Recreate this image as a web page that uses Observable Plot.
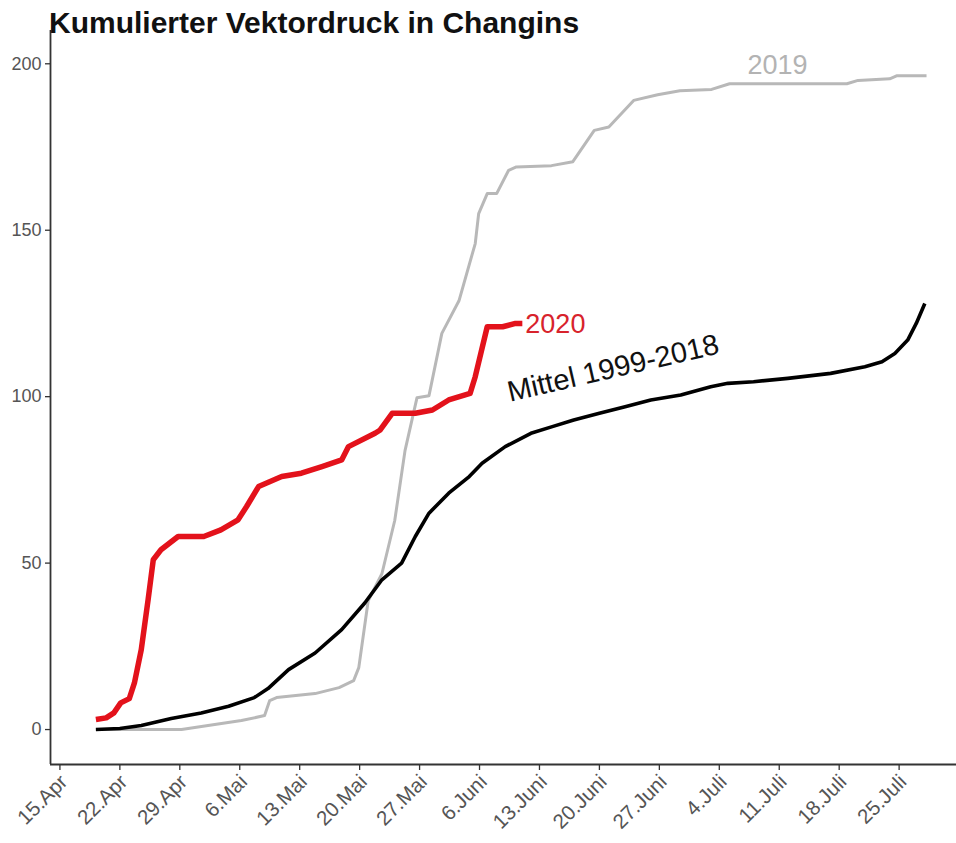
<!DOCTYPE html>
<html>
<head>
<meta charset="utf-8">
<script src="https://cdn.jsdelivr.net/npm/d3@7"></script>
<script src="https://cdn.jsdelivr.net/npm/@observablehq/plot@0.6"></script>
<style>
  html, body { margin: 0; padding: 0; background: #fff; }
  #wrap { position: relative; width: 956px; height: 843px; }
  #title { position: absolute; left: 49px; top: 8px; font: bold 30px "Liberation Sans", Arial, sans-serif; color: #111; line-height: 1; white-space: nowrap; }
  svg { display: block; }
</style>
</head>
<body>
<div id="wrap">
  <div id="title">Kumulierter Vektordruck in Changins</div>
  <div id="chart"></div>
</div>
<script>
// x = days since 15 April
const xTickDays = [0, 7, 14, 21, 28, 35, 42, 49, 56, 63, 70, 77, 84, 91, 98];
const xTickLabels = ["15.Apr", "22.Apr", "29.Apr", "6.Mai", "13.Mai", "20.Mai", "27.Mai", "6.Juni", "13.Juni", "20.Juni", "27.Juni", "4.Juli", "11.Juli", "18.Juli", "25.Juli"];
const yTicks = [0, 50, 100, 150, 200];

// 2020
const days2020 = [4.2, 5.4, 6.3, 7.1, 8.1, 8.7, 9.5, 10.3, 10.9, 11.8, 13.8, 16.8, 18.8, 20.8, 21.8, 23.2, 25.9, 28.2, 30.6, 32.9, 33.7, 36.8, 37.4, 38.8, 41.5, 43.5, 45.4, 47.9, 48.5, 49.9, 51.7, 53.2, 54.0];
const vals2020 = [3, 3.5, 5, 8, 9.3, 14, 24, 39, 51, 54, 58, 58, 60, 63, 67, 73, 76, 77, 79, 81, 85, 89, 90, 95, 95, 96, 99, 101, 106, 121, 121, 122, 122];

// 2019
const days2019 = [4.2, 14.2, 17.3, 21.2, 23.9, 24.5, 25.3, 29.8, 32.6, 34.3, 34.9, 36.0, 37.6, 39.1, 40.3, 41.7, 43.1, 44.6, 46.6, 48.5, 48.9, 49.9, 51.0, 52.4, 53.3, 57.4, 59.9, 62.4, 64.1, 67.0, 69.8, 72.4, 76.1, 78.2, 91.9, 93.2, 96.9, 97.7, 101.2];
const vals2019 = [0, 0, 1.2, 2.7, 4.2, 8.7, 9.6, 10.8, 12.6, 14.7, 18.6, 38.7, 46.8, 62.8, 83.8, 99.7, 100.3, 119, 128.8, 146, 155, 161, 161, 168, 169, 169.4, 170.6, 180, 181, 189, 190.7, 191.9, 192.3, 194, 194, 195, 195.5, 196.4, 196.4];

// Mittel 1999-2018
const daysMean = [4.2, 7, 9.5, 13, 16.5, 19.7, 22.7, 24.3, 26.7, 29.8, 32.9, 35.6, 37.6, 39.9, 41.5, 43.1, 45.4, 47.8, 49.3, 52, 55, 57.5, 60, 63, 66, 69, 72.5, 76, 78, 81, 85, 90, 94, 96, 97.5, 99, 100, 101];
const valsMean = [0, 0.3, 1.2, 3.3, 5, 7, 9.6, 12.3, 18, 23, 30, 38, 45, 50, 58, 65, 71, 76, 80, 85, 89, 91, 93, 95, 97, 99, 100.5, 103, 104, 104.5, 105.5, 107, 109, 110.5, 113, 117, 122, 128];

const labelTexts = ["2020", "2019", "Mittel 1999-2018"];

const toRows = (ds, vs) => ds.map((d, i) => ({x: d, y: vs[i]}));
const d2020 = toRows(days2020, vals2020);
const d2019 = toRows(days2019, vals2019);
const dMean = toRows(daysMean, valsMean);

const xMin = -1.1, yMin = -10.5;
const font = "'Liberation Sans', Arial, sans-serif";

const chart = Plot.plot({
  width: 956,
  height: 843,
  marginTop: 30,
  marginLeft: 50,
  marginRight: 0,
  marginBottom: 79,
  style: {fontFamily: font, background: "#fff"},
  x: {domain: [xMin, 104.7], axis: null},
  y: {domain: [yMin, 210], axis: null},
  marks: [
    Plot.axisY({ticks: yTicks, tickSize: 5, tickPadding: 4, fontSize: 18, fill: "#555", stroke: "#333", strokeWidth: 1.3, label: null, tickFormat: d => String(d)}),
    Plot.axisX({ticks: xTickDays, tickSize: 6, stroke: "#333", strokeWidth: 1.3, label: null, tickFormat: () => ""}),
    Plot.axisX({ticks: xTickDays, tickSize: 0, tickPadding: 14, dx: 4, tickRotate: -45, fontSize: 20.5, fill: "#555", label: null, tickFormat: d => xTickLabels[xTickDays.indexOf(d)]}),
    Plot.ruleX([xMin], {stroke: "#333", strokeWidth: 1.8}),
    Plot.ruleY([yMin], {stroke: "#333", strokeWidth: 1.8}),
    Plot.line(d2019, {x: "x", y: "y", stroke: "#b8b8b8", strokeWidth: 3, strokeLinecap: "butt"}),
    Plot.line(dMean, {x: "x", y: "y", stroke: "#000", strokeWidth: 3.6, strokeLinecap: "butt"}),
    Plot.line(d2020, {x: "x", y: "y", stroke: "#e3121b", strokeWidth: 5.5, strokeLinecap: "butt"}),
    Plot.text([labelTexts[0]], {x: days2020[days2020.length - 1], y: vals2020[vals2020.length - 1], text: d => d, textAnchor: "start", dx: 3, dy: 1, fontSize: 27, fill: "#d8232c"}),
    Plot.text([labelTexts[1]], {x: 83.8, y: 199.5, text: d => d, textAnchor: "middle", fontSize: 27, fill: "#b3b3b3"}),
    Plot.text([labelTexts[2]], {x: 64.6, y: 108.5, text: d => d, textAnchor: "middle", rotate: -13, fontSize: 29, fill: "#111"})
  ]
});
document.getElementById("chart").appendChild(chart);
</script>
</body>
</html>
